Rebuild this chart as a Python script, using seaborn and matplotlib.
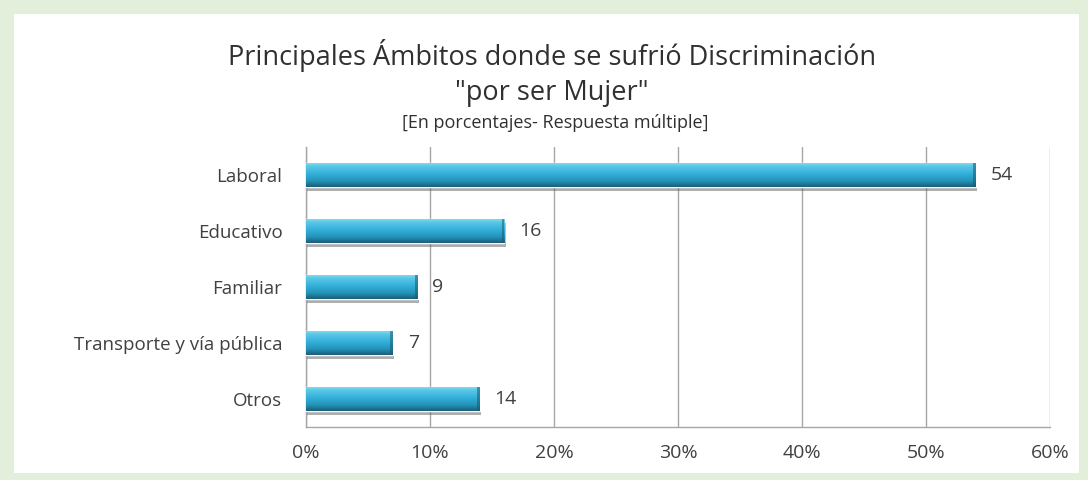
import matplotlib
matplotlib.use("Agg")
import matplotlib.pyplot as plt
import seaborn as sns
import numpy as np
import pandas as pd
from matplotlib.patches import Rectangle
from matplotlib.colors import LinearSegmentedColormap
import matplotlib.patheffects as pe

categories = ["Laboral", "Educativo", "Familiar", "Transporte y vía pública", "Otros"]
values = [54, 16, 9, 7, 14]
xticks = [0, 10, 20, 30, 40, 50, 60]
xticklabels = ["0%", "10%", "20%", "30%", "40%", "50%", "60%"]

sns.set_theme(style="white")
plt.rcParams["font.family"] = ["Open Sans", "DejaVu Sans"]

df = pd.DataFrame({"cat": categories, "val": values})

fig = plt.figure(figsize=(10.88, 4.8), dpi=100)
fig.patch.set_facecolor("#e3eedb")
fig.add_artist(Rectangle((14/1088, 1 - 473/480), (1079-14)/1088, (473-14)/480,
                         transform=fig.transFigure, facecolor="white", edgecolor="none", zorder=0))

ax = fig.add_axes([306/1088, 1 - 427/480, (1050-306)/1088, (427-147)/480])
ax.set_facecolor("none")
sns.barplot(data=df, x="val", y="cat", orient="h", color="#35afd4", width=0.43, ax=ax,
            saturation=1, zorder=3)

grad = np.linspace(0, 1, 64).reshape(-1, 1)
cmap = LinearSegmentedColormap.from_list(
    "cyl", [(0.0, "#8fdff3"), (0.15, "#5cc8e8"), (0.45, "#34b2db"), (0.75, "#2594bb"), (1.0, "#1b5f78")])
for p in ax.patches:
    x0, y0 = p.get_x(), p.get_y()
    w, h = p.get_width(), p.get_height()
    p.set_path_effects([pe.SimplePatchShadow(offset=(1.0, -3.0), shadow_rgbFace="#606060", alpha=0.5),
                        pe.Normal()])
    ytop, ybot = min(y0, y0 + h), max(y0, y0 + h)
    im = ax.imshow(grad, cmap=cmap, aspect="auto", extent=(x0, x0 + w, ytop, ybot),
                   origin="lower", zorder=4)
    im.set_clip_path(p)
    ax.add_patch(Rectangle((x0 + w - 0.22, y0), 0.22, h, facecolor="#1a5a70", edgecolor="none",
                           alpha=0.55, zorder=5))

ax.set_xlim(0, 60)
ax.set_ylim(4.5, -0.5)
ax.set_xticks(xticks)
ax.set_xticklabels(xticklabels, fontsize=14, color="#404040")
ax.tick_params(axis="y", labelsize=13.5, colors="#404040", length=0, pad=17)
ax.tick_params(axis="x", length=0, pad=12)
ax.set_xlabel("")
ax.set_ylabel("")
ax.xaxis.grid(True, color="#a6a6a6", linewidth=1, zorder=0)
ax.set_axisbelow(True)
for s in ["top", "right"]:
    ax.spines[s].set_visible(False)
for s in ["left", "bottom"]:
    ax.spines[s].set_color("#a6a6a6")
    ax.spines[s].set_linewidth(1)

for i, v in enumerate(values):
    ax.text(v + 1.2, i, f"{v}", va="center", ha="left", fontsize=14, color="#404040", zorder=6)

fig.text(552/1088, 1 - 55/480, "Principales Ámbitos donde se sufrió Discriminación",
         ha="center", va="center", fontsize=19.5, color="#303030")
fig.text(552/1088, 1 - 93/480, "\"por ser Mujer\"", ha="center", va="center", fontsize=19.5, color="#303030")
fig.text(555/1088, 1 - 123/480, "[En porcentajes- Respuesta múltiple]", ha="center", va="center",
         fontsize=13, color="#303030")

fig.savefig("out.png", dpi=100)
